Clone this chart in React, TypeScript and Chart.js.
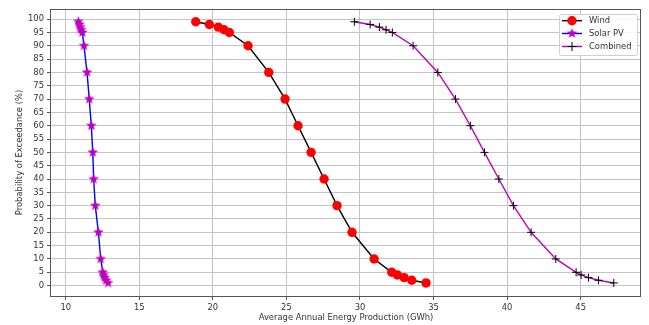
import React, { useEffect, useRef } from 'react';
import { Chart, registerables } from 'chart.js';

Chart.register(...registerables);

const exceedance = [99, 98, 97, 96, 95, 90, 80, 70, 60, 50, 40, 30, 20, 10, 5, 4, 3, 2, 1];
const windGWh = [18.84, 19.76, 20.37, 20.76, 21.12, 22.39, 23.8, 24.91, 25.79, 26.68, 27.56, 28.44, 29.46, 30.96, 32.16, 32.54, 33.0, 33.52, 34.49];
const solarGWh = [10.86, 10.94, 11.0, 11.06, 11.13, 11.24, 11.45, 11.6, 11.74, 11.84, 11.9, 12.01, 12.22, 12.38, 12.52, 12.58, 12.65, 12.74, 12.88];
const combinedGWh = [29.62, 30.69, 31.32, 31.77, 32.2, 33.61, 35.29, 36.49, 37.5, 38.46, 39.44, 40.43, 41.63, 43.31, 44.69, 45.03, 45.53, 46.21, 47.25];
const seriesNames = ['Wind', 'Solar PV', 'Combined'];
const xTicks = [10, 15, 20, 25, 30, 35, 40, 45];
const yTicks = [0, 5, 10, 15, 20, 25, 30, 35, 40, 45, 50, 55, 60, 65, 70, 75, 80, 85, 90, 95, 100];
const xTitle = 'Average Annual Energy Production (GWh)';
const yTitle = 'Probability of Exceedance (%)';

const FONT_FAMILY = '"DejaVu Sans", sans-serif';
const FONT_SIZE = 8.4;
const TEXT_COLOR = '#333333';
const GRID_COLOR = '#c4c4c4';
const SPINE_COLOR = '#555555';
const MAGENTA = '#bf00bf';

function makeStar(size: number, outer: number, color: string): HTMLCanvasElement {
  const c = document.createElement('canvas');
  c.width = size;
  c.height = size;
  const g = c.getContext('2d')!;
  const cx = size / 2;
  const cy = size / 2;
  const inner = outer * 0.42;
  g.beginPath();
  for (let i = 0; i < 10; i++) {
    const r = i % 2 === 0 ? outer : inner;
    const ang = -Math.PI / 2 + (i * Math.PI) / 5;
    const px = cx + r * Math.cos(ang);
    const py = cy + r * Math.sin(ang);
    if (i === 0) g.moveTo(px, py);
    else g.lineTo(px, py);
  }
  g.closePath();
  g.fillStyle = color;
  g.fill();
  return c;
}

export default function App() {
  const ref = useRef<HTMLCanvasElement | null>(null);

  useEffect(() => {
    if (!ref.current) return;
    const star = makeStar(13, 5.6, MAGENTA);

    const framePlugin = {
      id: 'frame',
      afterDatasetsDraw(chart: any) {
        const { ctx, chartArea: a } = chart;
        ctx.save();
        ctx.strokeStyle = SPINE_COLOR;
        ctx.lineWidth = 1;
        const l = Math.floor(a.left) - 0.5;
        const t = Math.floor(a.top) + 0.5;
        const r = Math.floor(a.right) - 0.5;
        const b = Math.floor(a.bottom) + 0.5;
        ctx.strokeRect(l, t, r - l, b - t);
        ctx.restore();
      },
    };

    const legendPlugin = {
      id: 'customLegend',
      afterDraw(chart: any) {
        const { ctx } = chart;
        ctx.save();
        const bx = 559.5, by = 14.5, bw = 78, bh = 41;
        ctx.fillStyle = 'rgba(255,255,255,0.85)';
        ctx.strokeStyle = '#d0d0d0';
        ctx.lineWidth = 1;
        ctx.beginPath();
        const rad = 2;
        ctx.moveTo(bx + rad, by);
        ctx.lineTo(bx + bw - rad, by);
        ctx.arcTo(bx + bw, by, bx + bw, by + rad, rad);
        ctx.lineTo(bx + bw, by + bh - rad);
        ctx.arcTo(bx + bw, by + bh, bx + bw - rad, by + bh, rad);
        ctx.lineTo(bx + rad, by + bh);
        ctx.arcTo(bx, by + bh, bx, by + bh - rad, rad);
        ctx.lineTo(bx, by + rad);
        ctx.arcTo(bx, by, bx + rad, by, rad);
        ctx.closePath();
        ctx.fill();
        ctx.stroke();

        const rows = [20.7, 33.5, 46.5];
        const lineColors = ['#000000', '#0000ff', MAGENTA];
        const x0 = 562, x1 = 582, xm = 572;
        ctx.font = `${FONT_SIZE}px ${FONT_FAMILY}`;
        ctx.textBaseline = 'middle';
        ctx.textAlign = 'left';
        rows.forEach((y, i) => {
          ctx.strokeStyle = lineColors[i];
          ctx.lineWidth = 1.4;
          ctx.beginPath();
          ctx.moveTo(x0, y);
          ctx.lineTo(x1, y);
          ctx.stroke();
          if (i === 0) {
            ctx.fillStyle = '#ff0000';
            ctx.beginPath();
            ctx.arc(xm, y, 4.7, 0, Math.PI * 2);
            ctx.fill();
          } else if (i === 1) {
            ctx.drawImage(star, xm - star.width / 2, y - star.height / 2);
          } else {
            ctx.strokeStyle = '#000000';
            ctx.lineWidth = 1;
            ctx.beginPath();
            ctx.moveTo(xm - 4.5, y);
            ctx.lineTo(xm + 4.5, y);
            ctx.moveTo(xm, y - 4.5);
            ctx.lineTo(xm, y + 4.5);
            ctx.stroke();
          }
          ctx.fillStyle = TEXT_COLOR;
          ctx.fillText(seriesNames[i], 589, y + 0.5);
        });
        ctx.restore();
      },
    };

    const toPts = (xs: number[]) => xs.map((x, i) => ({ x, y: exceedance[i] }));

    const chart = new Chart(ref.current, {
      type: 'line',
      data: {
        datasets: [
          {
            label: seriesNames[0],
            data: toPts(windGWh),
            borderColor: '#000000',
            borderWidth: 1.4,
            pointStyle: 'circle',
            pointRadius: 4.7,
            pointBackgroundColor: '#ff0000',
            pointBorderColor: '#ff0000',
            pointBorderWidth: 0,
            tension: 0,
            fill: false,
          },
          {
            label: seriesNames[1],
            data: toPts(solarGWh),
            borderColor: '#0000ff',
            borderWidth: 1.4,
            pointStyle: star as any,
            pointRadius: 5,
            pointBackgroundColor: MAGENTA,
            pointBorderColor: MAGENTA,
            tension: 0,
            fill: false,
          },
          {
            label: seriesNames[2],
            data: toPts(combinedGWh),
            borderColor: MAGENTA,
            borderWidth: 1.4,
            pointStyle: 'cross',
            pointRadius: 4,
            pointBorderColor: '#000000',
            pointBackgroundColor: '#000000',
            pointBorderWidth: 1,
            tension: 0,
            fill: false,
          },
        ],
      },
      options: {
        animation: false,
        responsive: false,
        devicePixelRatio: 1,
        events: [],
        layout: { padding: { left: 0, right: 8, top: 9, bottom: 0 } },
        plugins: {
          legend: { display: false },
          tooltip: { enabled: false },
          title: { display: false },
        },
        scales: {
          x: {
            type: 'linear',
            min: 9.0,
            max: 49.1,
            afterBuildTicks: (scale: any) => {
              scale.ticks = xTicks.map((v) => ({ value: v }));
            },
            afterFit: (scale: any) => {
              scale.height = 29;
            },
            grid: {
              color: GRID_COLOR,
              lineWidth: 1,
              drawTicks: true,
              tickLength: 4,
              tickColor: SPINE_COLOR,
            },
            border: { display: false },
            ticks: {
              color: TEXT_COLOR,
              font: { family: FONT_FAMILY, size: FONT_SIZE },
              padding: 3,
              maxRotation: 0,
              autoSkip: false,
            },
            title: {
              display: true,
              text: xTitle,
              color: TEXT_COLOR,
              font: { family: FONT_FAMILY, size: FONT_SIZE },
              padding: { top: 0, bottom: 2 },
            },
          },
          y: {
            type: 'linear',
            min: -3.9,
            max: 103.8,
            afterBuildTicks: (scale: any) => {
              scale.ticks = yTicks.map((v) => ({ value: v }));
            },
            afterFit: (scale: any) => {
              scale.width = 51;
            },
            grid: {
              color: GRID_COLOR,
              lineWidth: 1,
              drawTicks: true,
              tickLength: 4,
              tickColor: SPINE_COLOR,
            },
            border: { display: false },
            ticks: {
              color: TEXT_COLOR,
              font: { family: FONT_FAMILY, size: FONT_SIZE },
              padding: 3,
              autoSkip: false,
            },
            title: {
              display: true,
              text: yTitle,
              color: TEXT_COLOR,
              font: { family: FONT_FAMILY, size: FONT_SIZE },
              padding: { top: 15, bottom: 0 },
            },
          },
        },
      },
      plugins: [framePlugin, legendPlugin],
    } as any);

    return () => chart.destroy();
  }, []);

  return (
    <div style={{ position: 'absolute', left: 0, top: 0, width: 649, height: 325, background: '#ffffff' }}>
      <canvas ref={ref} width={649} height={325} style={{ display: 'block', width: 649, height: 325 }} />
    </div>
  );
}
